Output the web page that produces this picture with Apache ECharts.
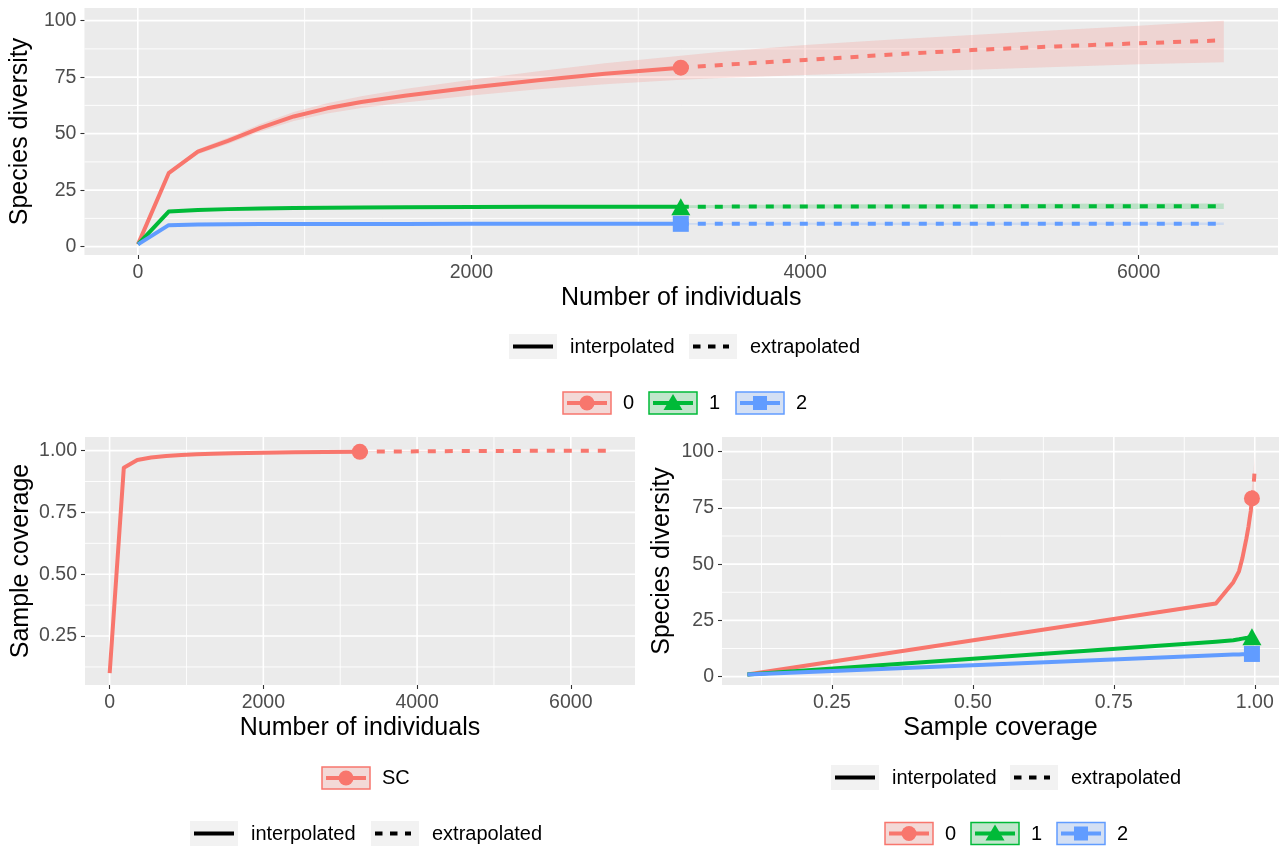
<!DOCTYPE html>
<html>
<head>
<meta charset="utf-8">
<script src="https://cdn.jsdelivr.net/npm/echarts@6/dist/echarts.min.js"></script>
<style>
  html, body { margin: 0; padding: 0; background: #ffffff; }
  #chart { width: 1284px; height: 852px; }
</style>
</head>
<body>
<div id="chart"></div>
<script>
// ---- Rarefaction (interpolated) knots: number of individuals ----
const sizeInterp = [1, 185, 360, 540, 735, 935, 1135, 1340, 1600, 2000, 2400, 2800, 3255];
// ---- Extrapolated knots (up to twice the reference sample) ----
const sizeExtrap = [3255, 3500, 4000, 4500, 5000, 5500, 6000, 6510];

// Hill number q = 0 (species richness) with 95% bounds
const q0Interp    = [1, 32.5, 42.0, 46.8, 52.6, 57.6, 61.2, 64.0, 66.8, 70.4, 73.6, 76.5, 79.2];
const q0InterpLow = [1, 31.7, 40.9, 45.4, 50.9, 55.6, 58.9, 61.4, 63.8, 66.9, 69.6, 71.9, 73.9];
const q0InterpUp  = [1, 33.3, 43.1, 48.2, 54.3, 59.6, 63.5, 66.6, 69.8, 73.9, 77.6, 81.1, 84.5];
const q0Extrap    = [79.2, 80.4, 82.6, 84.9, 87.0, 88.6, 90.0, 91.3];
const q0ExtrapLow = [73.9, 74.6, 75.9, 77.1, 78.3, 79.5, 80.7, 81.6];
const q0ExtrapUp  = [84.5, 86.2, 89.2, 91.5, 93.6, 95.8, 97.8, 100.0];

// Hill number q = 1 (Shannon diversity)
const q1Interp    = [1, 15.5, 16.2, 16.6, 16.9, 17.1, 17.2, 17.3, 17.4, 17.5, 17.6, 17.6, 17.7];
const q1InterpLow = [1, 15.1, 15.8, 16.2, 16.5, 16.6, 16.7, 16.8, 16.9, 17.0, 17.0, 17.0, 17.1];
const q1InterpUp  = [1, 15.9, 16.6, 17.0, 17.3, 17.6, 17.7, 17.8, 17.9, 18.0, 18.2, 18.2, 18.3];
const q1Extrap    = [17.7, 17.7, 17.8, 17.8, 17.8, 17.9, 17.9, 17.9];
const q1ExtrapLow = [17.1, 17.0, 16.9, 16.9, 16.8, 16.8, 16.7, 16.7];
const q1ExtrapUp  = [18.3, 18.4, 18.6, 18.8, 18.9, 19.0, 19.1, 19.1];

// Hill number q = 2 (Simpson diversity)
const q2Interp    = [1, 9.5, 9.8, 9.9, 10.0, 10.0, 10.0, 10.0, 10.0, 10.1, 10.1, 10.1, 10.1];
const q2InterpLow = [1, 9.2, 9.5, 9.6, 9.7, 9.7, 9.7, 9.7, 9.7, 9.7, 9.7, 9.7, 9.7];
const q2InterpUp  = [1, 9.8, 10.1, 10.2, 10.3, 10.3, 10.3, 10.4, 10.4, 10.5, 10.5, 10.5, 10.5];
const q2Extrap    = [10.1, 10.1, 10.1, 10.1, 10.1, 10.1, 10.1, 10.1];
const q2ExtrapLow = [9.7, 9.7, 9.7, 9.6, 9.6, 9.6, 9.6, 9.6];
const q2ExtrapUp  = [10.5, 10.5, 10.6, 10.6, 10.6, 10.7, 10.7, 10.7];

// Sample coverage at the same knots
const covInterp    = [0.100, 0.931, 0.962, 0.972, 0.978, 0.982, 0.985, 0.987, 0.989, 0.991, 0.993, 0.994, 0.995];
const covInterpLow = [0.096, 0.926, 0.959, 0.970, 0.976, 0.980, 0.983, 0.985, 0.987, 0.989, 0.991, 0.992, 0.993];
const covInterpUp  = [0.104, 0.936, 0.965, 0.974, 0.980, 0.984, 0.987, 0.989, 0.991, 0.993, 0.995, 0.996, 0.997];
const covExtrap    = [0.995, 0.996, 0.997, 0.998, 0.9985, 0.999, 0.9993, 0.9995];
const covExtrapLow = [0.993, 0.994, 0.995, 0.996, 0.997, 0.9975, 0.998, 0.9985];
const covExtrapUp  = [0.997, 0.998, 0.999, 0.9995, 1.0, 1.0, 1.0, 1.0];

// Tick labels
const ticksIndividuals = [0, 2000, 4000, 6000];
const ticksDiversity   = [0, 25, 50, 75, 100];
const ticksCoverage    = [0.25, 0.50, 0.75, 1.00];

const FONT = '"Liberation Sans", Arial, sans-serif';
const RED = '#F8766D', GREEN = '#00BA38', BLUE = '#619CFF';
const RED_FILL = 'rgba(248,118,109,0.2)';
const GREEN_FILL = 'rgba(0,186,56,0.2)';
const BLUE_FILL = 'rgba(97,156,255,0.2)';

// Axis ranges for the three panels
const R = {
  top:   { x: [-320, 6835], y: [-3.7, 105.6] },
  left:  { x: [-320, 6835], y: [0.052, 1.055] },
  right: { x: [0.055, 1.043], y: [-3.7, 106.5] }
};

const join = (a, b) => a.concat(b.slice(1));

function midpoints(ticks, lo, hi) {
  const step = ticks[1] - ticks[0];
  const out = [];
  for (let v = ticks[0] - step / 2; v <= ticks[ticks.length - 1] + step / 2 + 1e-9; v += step) {
    if (v > lo && v < hi) out.push(+v.toFixed(6));
  }
  return out;
}

// White panel grid lines (major + minor)
function gridLines(idx, range, xMajor, yMajor) {
  const data = [];
  midpoints(xMajor, range.x[0], range.x[1]).forEach(v => data.push([v, 0, 0.9]));
  midpoints(yMajor, range.y[0], range.y[1]).forEach(v => data.push([v, 1, 0.9]));
  xMajor.forEach(v => data.push([v, 0, 1.6]));
  yMajor.forEach(v => data.push([v, 1, 1.6]));
  return {
    type: 'custom', xAxisIndex: idx, yAxisIndex: idx, silent: true, z: 0, clip: true,
    data: data, encode: { x: 0 },
    renderItem: function (params, api) {
      const v = api.value(0), dir = api.value(1), w = api.value(2);
      let a, b;
      if (dir === 0) { a = api.coord([v, range.y[0]]); b = api.coord([v, range.y[1]]); }
      else { a = api.coord([range.x[0], v]); b = api.coord([range.x[1], v]); }
      return { type: 'line', shape: { x1: a[0], y1: a[1], x2: b[0], y2: b[1] },
               style: { stroke: '#FFFFFF', lineWidth: w } };
    }
  };
}

// Confidence band drawn as one polygon
function band(idx, xs, lo, hi, fill) {
  const pts = xs.map((x, i) => [x, lo[i], hi[i]]);
  return {
    type: 'custom', xAxisIndex: idx, yAxisIndex: idx, silent: true, z: 1, clip: true,
    data: pts, encode: { x: 0, y: [1, 2] },
    renderItem: function (params, api) {
      if (params.dataIndex !== 0) return null;
      const upper = pts.map(p => api.coord([p[0], p[2]]));
      const lower = pts.map(p => api.coord([p[0], p[1]])).reverse();
      return { type: 'polygon', shape: { points: upper.concat(lower) }, style: { fill: fill } };
    }
  };
}

function curve(idx, xs, ys, color, dashed) {
  return {
    type: 'line', xAxisIndex: idx, yAxisIndex: idx, silent: true, z: 2, clip: true,
    data: xs.map((x, i) => [x, ys[i]]), symbol: 'none', showSymbol: false,
    lineStyle: { color: color, width: 4, type: dashed ? [8, 9] : 'solid', join: 'round', cap: 'butt' }
  };
}

function point(idx, x, y, color, symbol, size) {
  return {
    type: 'scatter', xAxisIndex: idx, yAxisIndex: idx, silent: true, z: 3,
    data: [[x, y]], symbol: symbol, symbolSize: size, itemStyle: { color: color, opacity: 1 }
  };
}

function axis(gridIndex, range, ticks, fmt, name, nameGap) {
  return {
    type: 'value', gridIndex: gridIndex, min: range[0], max: range[1],
    name: name, nameLocation: 'middle', nameGap: nameGap,
    nameTextStyle: { color: '#000000', fontSize: 25, fontFamily: FONT },
    axisLine: { show: false, onZero: false },
    axisTick: { show: true, length: 4, customValues: ticks, lineStyle: { color: '#333333', width: 1.1 } },
    axisLabel: { show: true, color: '#4D4D4D', fontSize: 19.5, fontFamily: FONT, margin: 8,
                 customValues: ticks, formatter: fmt },
    splitLine: { show: false }, minorSplitLine: { show: false }
  };
}
const fmtInt = v => String(Math.round(v));
const fmt2 = v => v.toFixed(2);

const series = [];
// Panel 1: diversity vs number of individuals
series.push(gridLines(0, R.top, ticksIndividuals, ticksDiversity));
series.push(band(0, join(sizeInterp, sizeExtrap), join(q0InterpLow, q0ExtrapLow), join(q0InterpUp, q0ExtrapUp), RED_FILL));
series.push(band(0, join(sizeInterp, sizeExtrap), join(q1InterpLow, q1ExtrapLow), join(q1InterpUp, q1ExtrapUp), GREEN_FILL));
series.push(band(0, join(sizeInterp, sizeExtrap), join(q2InterpLow, q2ExtrapLow), join(q2InterpUp, q2ExtrapUp), BLUE_FILL));
series.push(curve(0, sizeInterp, q0Interp, RED, false), curve(0, sizeExtrap, q0Extrap, RED, true));
series.push(curve(0, sizeInterp, q1Interp, GREEN, false), curve(0, sizeExtrap, q1Extrap, GREEN, true));
series.push(curve(0, sizeInterp, q2Interp, BLUE, false), curve(0, sizeExtrap, q2Extrap, BLUE, true));
const nObs = sizeInterp[sizeInterp.length - 1];
series.push(point(0, nObs, q0Interp[q0Interp.length - 1], RED, 'circle', 16));
series.push(point(0, nObs, q1Interp[q1Interp.length - 1], GREEN, 'triangle', [19, 17]));
series.push(point(0, nObs, q2Interp[q2Interp.length - 1], BLUE, 'rect', 16));

// Panel 2: sample coverage vs number of individuals
series.push(gridLines(1, R.left, ticksIndividuals, ticksCoverage));
series.push(band(1, join(sizeInterp, sizeExtrap), join(covInterpLow, covExtrapLow), join(covInterpUp, covExtrapUp), RED_FILL));
series.push(curve(1, sizeInterp, covInterp, RED, false), curve(1, sizeExtrap, covExtrap, RED, true));
series.push(point(1, nObs, covInterp[covInterp.length - 1], RED, 'circle', 16));

// Panel 3: diversity vs sample coverage
const covAll = join(covInterp, covExtrap);
series.push(gridLines(2, R.right, ticksCoverage, ticksDiversity));
series.push(band(2, covAll, join(q0InterpLow, q0ExtrapLow), join(q0InterpUp, q0ExtrapUp), RED_FILL));
series.push(band(2, covAll, join(q1InterpLow, q1ExtrapLow), join(q1InterpUp, q1ExtrapUp), GREEN_FILL));
series.push(band(2, covAll, join(q2InterpLow, q2ExtrapLow), join(q2InterpUp, q2ExtrapUp), BLUE_FILL));
series.push(curve(2, covInterp, q0Interp, RED, false), curve(2, covExtrap, q0Extrap, RED, true));
series.push(curve(2, covInterp, q1Interp, GREEN, false), curve(2, covExtrap, q1Extrap, GREEN, true));
series.push(curve(2, covInterp, q2Interp, BLUE, false), curve(2, covExtrap, q2Extrap, BLUE, true));
const covObs = covInterp[covInterp.length - 1];
series.push(point(2, covObs, q0Interp[q0Interp.length - 1], RED, 'circle', 16));
series.push(point(2, covObs, q1Interp[q1Interp.length - 1], GREEN, 'triangle', [19, 17]));
series.push(point(2, covObs, q2Interp[q2Interp.length - 1], BLUE, 'rect', 16));

// ---- Legends ----
const legend = [];
function text(x, y, s) {
  legend.push({ type: 'text', x: x, y: y, silent: true,
    style: { text: s, fill: '#000000', fontSize: 20, fontFamily: FONT, verticalAlign: 'middle', align: 'left' } });
}
function lineKey(x, y, dashed) {
  legend.push({ type: 'rect', silent: true, shape: { x: x, y: y, width: 48, height: 25 }, style: { fill: '#F2F2F2' } });
  legend.push({ type: 'line', silent: true,
    shape: { x1: x + 4, y1: y + 12.5, x2: dashed ? x + 40 : x + 44, y2: y + 12.5 },
    style: { stroke: '#000000', lineWidth: 4, lineDash: dashed ? [7.5, 7.5] : null } });
}
function colorKey(x, y, color, fill, shape) {
  const w = 48, h = 22, cx = x + w / 2, cy = y + h / 2;
  legend.push({ type: 'rect', silent: true, shape: { x: x, y: y, width: w, height: h }, style: { fill: '#F2F2F2' } });
  legend.push({ type: 'rect', silent: true, shape: { x: x, y: y, width: w, height: h },
    style: { fill: fill, stroke: color, lineWidth: 1.5, opacity: 1 } });
  legend.push({ type: 'line', silent: true, shape: { x1: x + 4, y1: cy, x2: x + w - 4, y2: cy },
    style: { stroke: color, lineWidth: 4 } });
  if (shape === 'circle') legend.push({ type: 'circle', silent: true, shape: { cx: cx, cy: cy, r: 7.5 }, style: { fill: color } });
  if (shape === 'triangle') legend.push({ type: 'polygon', silent: true,
    shape: { points: [[cx, cy - 9], [cx + 9.5, cy + 7], [cx - 9.5, cy + 7]] }, style: { fill: color } });
  if (shape === 'rect') legend.push({ type: 'rect', silent: true, shape: { x: cx - 7, y: cy - 7, width: 14, height: 14 }, style: { fill: color } });
}
function lineTypeLegend(x1, x2, y) {
  lineKey(x1, y, false); text(x1 + 61, y + 13, 'interpolated');
  lineKey(x2, y, true);  text(x2 + 61, y + 13, 'extrapolated');
}
function orderLegend(xs, y) {
  colorKey(xs[0], y, RED, RED_FILL, 'circle');     text(xs[0] + 60, y + 11.5, '0');
  colorKey(xs[1], y, GREEN, GREEN_FILL, 'triangle'); text(xs[1] + 60, y + 11.5, '1');
  colorKey(xs[2], y, BLUE, BLUE_FILL, 'rect');     text(xs[2] + 60, y + 11.5, '2');
}
lineTypeLegend(509, 689, 334);
orderLegend([563, 649, 736], 392);
colorKey(322, 767, RED, RED_FILL, 'circle'); text(382, 778.5, 'SC');
lineTypeLegend(190, 371, 821);
lineTypeLegend(831, 1010, 765);
orderLegend([885, 971, 1057], 822.5);

const chart = echarts.init(document.getElementById('chart'), null, { renderer: 'canvas' });
chart.setOption({
  animation: false,
  backgroundColor: '#FFFFFF',
  grid: [
    { left: 80, top: 8, width: 1198, height: 247, show: true, backgroundColor: '#EBEBEB', borderWidth: 0, containLabel: false },
    { left: 85, top: 437, width: 550, height: 248, show: true, backgroundColor: '#EBEBEB', borderWidth: 0, containLabel: false },
    { left: 722, top: 437, width: 557, height: 248, show: true, backgroundColor: '#EBEBEB', borderWidth: 0, containLabel: false }
  ],
  xAxis: [
    axis(0, R.top.x, ticksIndividuals, fmtInt, 'Number of individuals', 31),
    axis(1, R.left.x, ticksIndividuals, fmtInt, 'Number of individuals', 31),
    axis(2, R.right.x, ticksCoverage, fmt2, 'Sample coverage', 31)
  ],
  yAxis: [
    axis(0, R.top.y, ticksDiversity, fmtInt, 'Species diversity', 46),
    axis(1, R.left.y, ticksCoverage, fmt2, 'Sample coverage', 51),
    axis(2, R.right.y, ticksDiversity, fmtInt, 'Species diversity', 47)
  ],
  series: series,
  graphic: legend
});
</script>
</body>
</html>
